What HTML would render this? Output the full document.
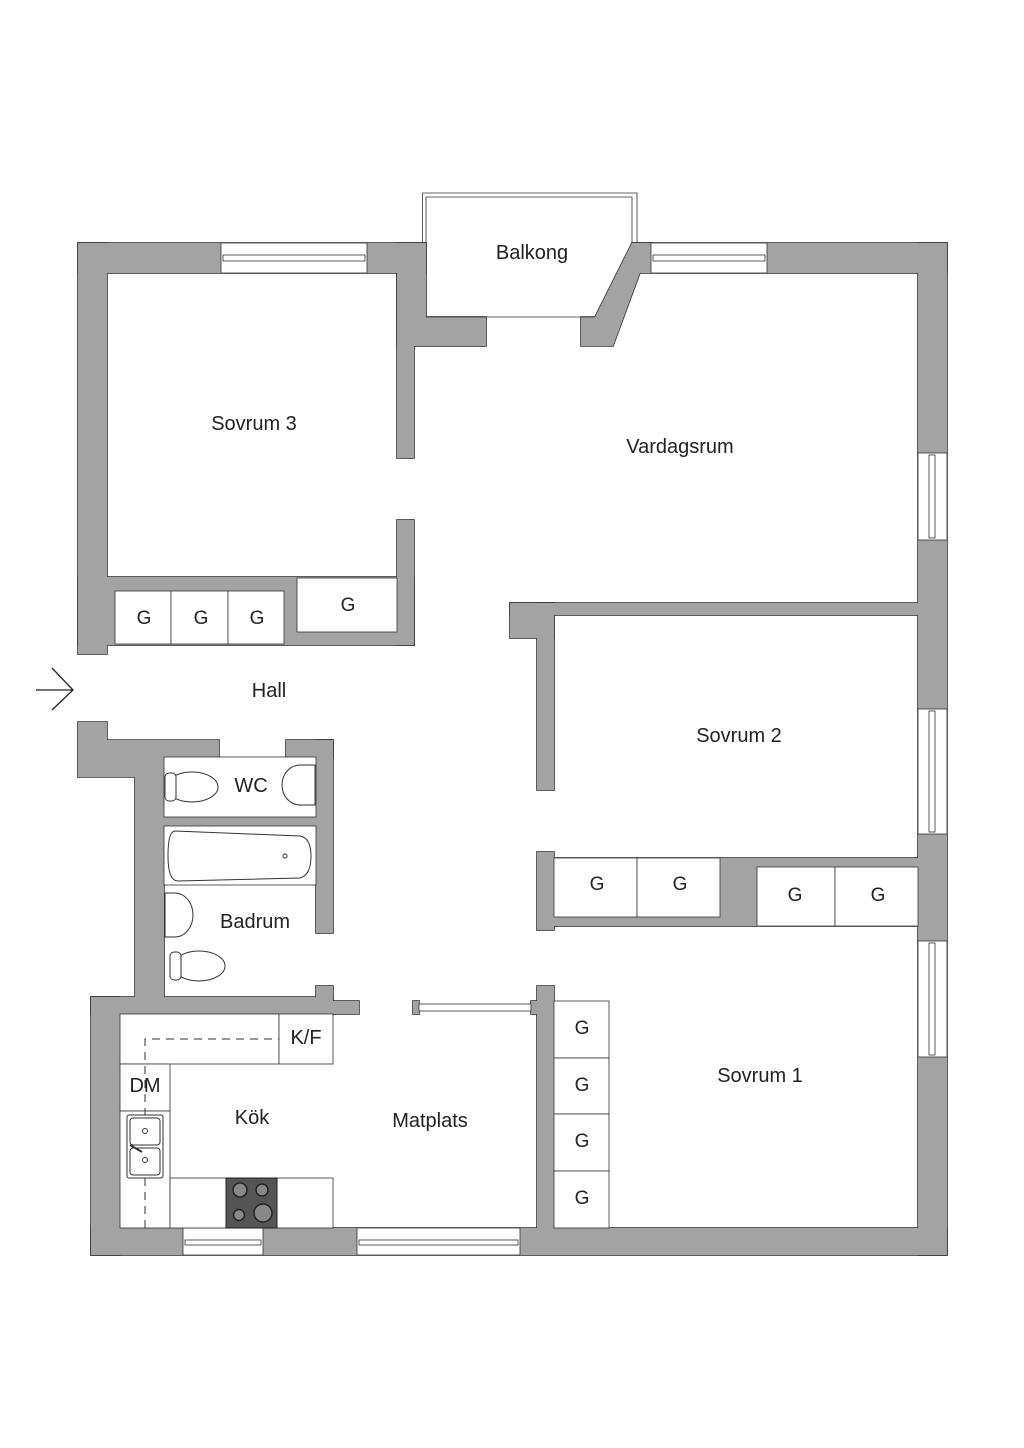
<!DOCTYPE html>
<html><head><meta charset="utf-8"><style>
html,body{margin:0;padding:0;background:#fff;}
svg{display:block;}
text{font-family:"Liberation Sans",sans-serif;fill:#222;text-anchor:middle;}
</style></head><body>
<svg width="1024" height="1448" viewBox="0 0 1024 1448" xmlns="http://www.w3.org/2000/svg">
<defs>
<g id="walls">
<rect x="78" y="243" width="348" height="30"/>
<rect x="78" y="243" width="29" height="411"/>
<rect x="397" y="273" width="17" height="185"/>
<rect x="397" y="520" width="17" height="125"/>
<rect x="397" y="243" width="29" height="74"/>
<rect x="397" y="317" width="89" height="29"/>
<polygon points="632,243 651,243 613,346 581,346 581,317 595,317"/>
<rect x="632" y="243" width="315" height="30"/>
<rect x="918" y="243" width="29" height="1012"/>
<rect x="78" y="577" width="336" height="68"/>
<polygon points="78,722 107,722 107,740 219,740 219,757 164,757 164,997 135,997 135,777 78,777"/>
<rect x="286" y="740" width="47" height="17"/>
<rect x="316" y="740" width="17" height="193"/>
<rect x="164" y="817" width="152" height="9"/>
<rect x="316" y="986" width="17" height="15"/>
<rect x="91" y="997" width="242" height="17"/>
<rect x="316" y="1001" width="43" height="13"/>
<rect x="91" y="997" width="29" height="258"/>
<rect x="91" y="1228" width="856" height="27"/>
<rect x="510" y="603" width="408" height="12"/>
<rect x="510" y="603" width="44" height="35"/>
<rect x="537" y="603" width="17" height="187"/>
<rect x="537" y="852" width="17" height="78"/>
<rect x="554" y="858" width="364" height="68"/>
<rect x="537" y="986" width="17" height="242"/>
<rect x="413" y="1001" width="6" height="13"/>
<rect x="531" y="1001" width="6" height="13"/>
</g>
</defs>
<use href="#walls" fill="#a3a3a3" stroke="#333" stroke-width="1.6"/>
<use href="#walls" fill="#a3a3a3" stroke="none"/>
<path d="M422.5,243 V193 H637 V243" fill="none" stroke="#333" stroke-width="0.8"/>
<path d="M426,243 V197 H632 V243" fill="none" stroke="#333" stroke-width="0.8"/>
<line x1="426" y1="317" x2="595" y2="317" stroke="#333" stroke-width="0.8"/>
<g fill="#fff" stroke="#333" stroke-width="0.8">
<rect x="221" y="243" width="146" height="30"/>
<rect x="223" y="255" width="142" height="6"/>
<rect x="651" y="243" width="116" height="30"/>
<rect x="653" y="255" width="112" height="6"/>
<rect x="918" y="453" width="29" height="87"/>
<rect x="929" y="455" width="6" height="83"/>
<rect x="918" y="709" width="29" height="125"/>
<rect x="929" y="711" width="6" height="121"/>
<rect x="918" y="941" width="29" height="116"/>
<rect x="929" y="943" width="6" height="112"/>
<rect x="183" y="1228" width="80" height="27"/>
<rect x="185" y="1240" width="76" height="5"/>
<rect x="357" y="1228" width="163" height="27"/>
<rect x="359" y="1240" width="159" height="5"/>
<rect x="419" y="1004" width="112" height="7"/>
</g>
<g fill="#fff" stroke="#333" stroke-width="0.8">
<rect x="115" y="591" width="56" height="53"/><rect x="171" y="591" width="57" height="53"/><rect x="228" y="591" width="56" height="53"/>
<rect x="297" y="578" width="100" height="54"/>
<rect x="554" y="858" width="83" height="59"/><rect x="637" y="858" width="83" height="59"/>
<rect x="757" y="867" width="78" height="59"/><rect x="835" y="867" width="83" height="59"/>
<rect x="554" y="1001" width="55" height="57"/><rect x="554" y="1058" width="55" height="56"/><rect x="554" y="1114" width="55" height="57"/><rect x="554" y="1171" width="55" height="57"/>
<rect x="120" y="1014" width="159" height="50"/><rect x="279" y="1014" width="54" height="50"/>
<rect x="120" y="1064" width="50" height="47"/><rect x="120" y="1111" width="50" height="117"/>
<rect x="170" y="1178" width="163" height="50"/>
<rect x="164" y="757" width="152" height="60"/>
<rect x="164" y="826" width="152" height="59"/>
</g>
<path d="M145,1228 V1039 H279" fill="none" stroke="#333" stroke-width="1" stroke-dasharray="8,6"/>
<rect x="226" y="1178" width="51" height="50" fill="#555" stroke="#222"/>
<g fill="#888" stroke="#222" stroke-width="1.5">
<circle cx="240" cy="1190" r="7"/><circle cx="262" cy="1190" r="6"/><circle cx="239" cy="1215" r="5.5"/><circle cx="263" cy="1213" r="9"/>
</g>
<rect x="127" y="1115" width="36" height="63" fill="#fff" stroke="#333" rx="2"/>
<rect x="130" y="1118" width="30" height="27" fill="#fff" stroke="#333" rx="3"/>
<rect x="130" y="1148" width="30" height="27" fill="#fff" stroke="#333" rx="3"/>
<circle cx="145" cy="1131" r="2.5" fill="none" stroke="#333"/><circle cx="145" cy="1160" r="2.5" fill="none" stroke="#333"/>
<line x1="130" y1="1145" x2="142" y2="1152" stroke="#333" stroke-width="2"/>
<path d="M175,831 Q168,831 168,856 Q168,881 178,881 L300,878 Q311,875 311,856 Q311,838 300,836 Z" fill="#fff" stroke="#333"/>
<circle cx="285" cy="856" r="2" fill="none" stroke="#333"/>
<g fill="#fff" stroke="#333">
<ellipse cx="192" cy="787" rx="26" ry="15"/><rect x="165" y="773" width="11" height="28" rx="4"/>
<ellipse cx="199" cy="966" rx="26" ry="15"/><rect x="170" y="952" width="11" height="28" rx="4"/>
<path d="M315,765 H300 A18,20 0 0 0 300,805 H315 Z"/>
<path d="M165,893 H175 A18,22 0 0 1 175,937 H165 Z"/>
</g>
<path d="M36,690 H73 M52,668 L73,690 L52,710" fill="none" stroke="#222" stroke-width="1.3"/>
<g font-size="20">
<text x="532" y="259">Balkong</text>
<text x="254" y="430">Sovrum 3</text>
<text x="680" y="453">Vardagsrum</text>
<text x="269" y="697">Hall</text>
<text x="251" y="792">WC</text>
<text x="255" y="928">Badrum</text>
<text x="739" y="742">Sovrum 2</text>
<text x="760" y="1082">Sovrum 1</text>
<text x="252" y="1124">Kök</text>
<text x="430" y="1127">Matplats</text>
<text x="306" y="1044">K/F</text>
<text x="145" y="1092">DM</text>
</g>
<g font-size="19">
<text x="144" y="624">G</text><text x="201" y="624">G</text><text x="257" y="624">G</text>
<text x="348" y="611">G</text>
<text x="597" y="890">G</text><text x="680" y="890">G</text>
<text x="795" y="901">G</text><text x="878" y="901">G</text>
<text x="582" y="1034">G</text><text x="582" y="1091">G</text><text x="582" y="1147">G</text><text x="582" y="1204">G</text>
</g>
</svg>
</body></html>
